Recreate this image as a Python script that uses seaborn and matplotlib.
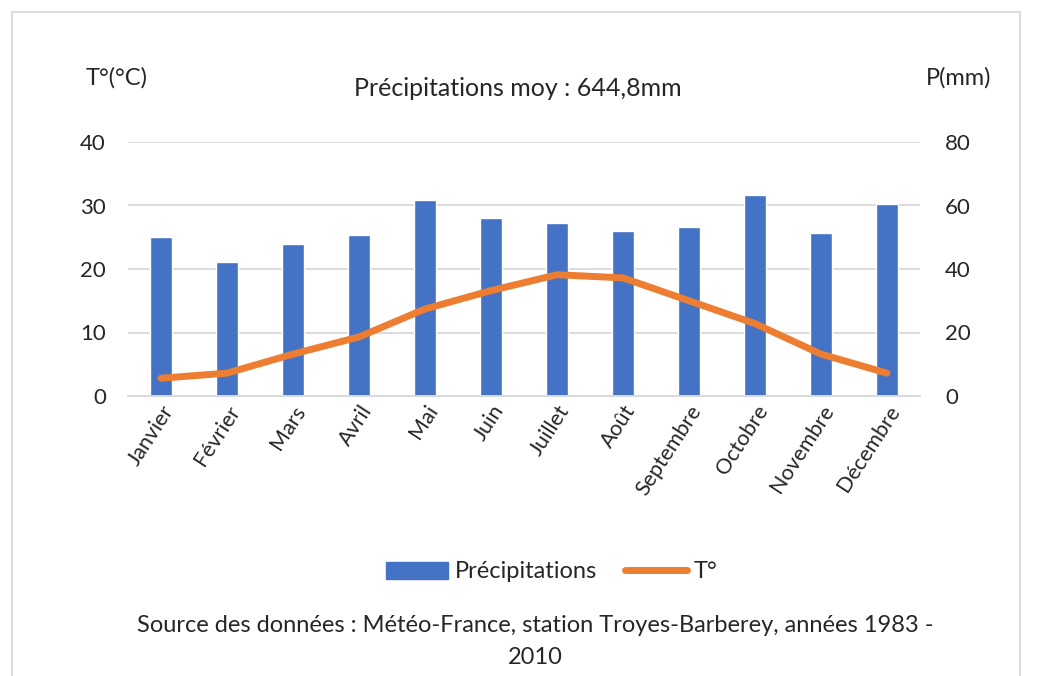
import matplotlib
matplotlib.use("Agg")
import matplotlib.pyplot as plt
from matplotlib.patches import Rectangle, Patch
from matplotlib.lines import Line2D
import seaborn as sns
import pandas as pd
import numpy as np

# Données
mois = ["Janvier", "Février", "Mars", "Avril", "Mai", "Juin", "Juillet",
        "Août", "Septembre", "Octobre", "Novembre", "Décembre"]
precipitations = [50.2, 42.2, 48.0, 50.6, 61.6, 56.2, 54.4, 52.1, 53.1, 63.4, 51.2, 60.6]
temperatures = [2.8, 3.6, 6.6, 9.3, 13.7, 16.6, 19.1, 18.6, 15.0, 11.4, 6.6, 3.6]

df = pd.DataFrame({"mois": mois, "P": precipitations, "T": temperatures})

sns.set_style("white")
plt.rcParams['font.family'] = ['Lato', 'DejaVu Sans']

bleu = "#4472C4"
orange = "#ED7D31"
gris = "#D9D9D9"
texte = "#262626"

fig = plt.figure(figsize=(10.38, 6.76), dpi=100)
ax = fig.add_axes([128 / 1038, 1 - 396 / 676, 792 / 1038, 254 / 676])

# Barres des précipitations (échelle de droite)
sns.barplot(data=df, x="mois", y="P", color=bleu, width=0.32, ax=ax, saturation=1)
ax.set_xlabel("")
ax.set_ylabel("")

# Courbe des températures (échelle de gauche)
ax2 = ax.twinx()
sns.lineplot(data=df, x="mois", y="T", color=orange, linewidth=5, ax=ax2, sort=False)
ax2.set_ylabel("")

ax.set_ylim(0, 80)
ax.set_yticks([0, 20, 40, 60, 80])
ax.yaxis.tick_right()
ax.grid(axis="y", color=gris, linewidth=1.3)
ax.set_axisbelow(True)
ax.set_xlim(-0.5, 11.5)

ax2.set_ylim(0, 40)
ax2.set_yticks([0, 10, 20, 30, 40])
ax2.yaxis.tick_left()
ax2.set_xlim(-0.5, 11.5)

for a in (ax, ax2):
    for s in ["top", "left", "right"]:
        a.spines[s].set_visible(False)
    a.spines["bottom"].set_color(gris)
    a.spines["bottom"].set_linewidth(1.3)
    a.tick_params(axis="y", length=0, labelsize=16, labelcolor=texte)
ax.tick_params(axis="y", pad=18)
ax2.tick_params(axis="y", pad=16)

ax.tick_params(axis="x", which="major", length=0, labelsize=15.5, labelcolor=texte, pad=4)
ax.set_xticks(range(len(mois)))
ax.set_xticklabels(mois, rotation=57, ha="right", rotation_mode="anchor")
ax.set_xticks(np.arange(-0.5, 12, 1), minor=True)
ax.tick_params(axis="x", which="minor", length=8, color=gris, width=1.3)
ax2.tick_params(axis="x", length=0)

# Titres
fig.text(518 / 1038, 1 - 88 / 676, "Précipitations moy : 644,8mm", ha="center", va="center",
         fontsize=18, color=texte)
fig.text(117 / 1038, 1 - 78 / 676, "T°(°C)", ha="center", va="center", fontsize=17, color=texte)
fig.text(959 / 1038, 1 - 78 / 676, "P(mm)", ha="center", va="center", fontsize=17, color=texte)

# Légende
handles = [Patch(facecolor=bleu, edgecolor=bleu),
           Line2D([0], [0], color=orange, linewidth=5)]
fig.legend(handles, ["Précipitations", "T°"], loc="center", ncol=2, frameon=False,
           bbox_to_anchor=(552 / 1038, 1 - 572 / 676), fontsize=17, handlelength=2.6,
           columnspacing=1.2, handletextpad=0.3, labelcolor=texte)

# Source
fig.text(535 / 1038, 1 - 625 / 676,
         "Source des données : Météo-France, station Troyes-Barberey, années 1983 -",
         ha="center", va="center", fontsize=17, color=texte)
fig.text(535 / 1038, 1 - 657 / 676, "2010", ha="center", va="center", fontsize=17, color=texte)

# Cadre du graphique
fig.patches.append(Rectangle((12 / 1038, -0.05), 1008 / 1038, 1 - 12 / 676 + 0.05,
                             transform=fig.transFigure, fill=False, edgecolor=gris,
                             linewidth=1.3))

fig.savefig("out.png", dpi=100)
